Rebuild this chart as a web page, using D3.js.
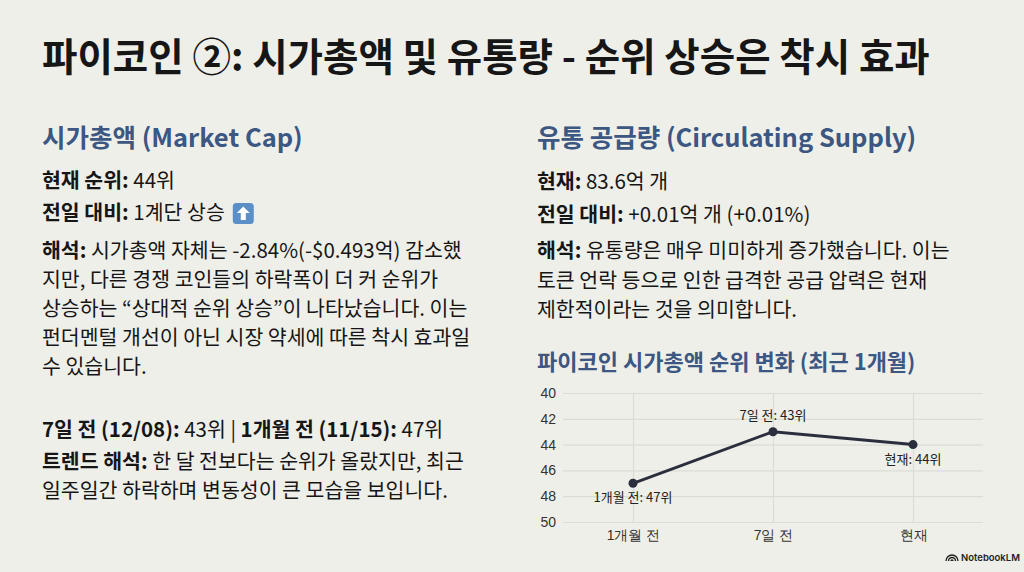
<!DOCTYPE html>
<html><head><meta charset="utf-8">
<script src="https://cdn.jsdelivr.net/npm/d3@7"></script>
<style>
html,body{margin:0;padding:0;background:#efefea;}
svg{display:block;font-family:"Noto Sans CJK KR","Noto Sans",sans-serif;}
</style></head>
<body>
<svg id="c" width="1024" height="572"></svg>
<script>
// ---- data ----
const title = "파이코인 ②: 시가총액 및 유통량 - 순위 상승은 착시 효과";
const leftHeading = "시가총액 (Market Cap)";
const rightHeading = "유통 공급량 (Circulating Supply)";
const chartTitle = "파이코인 시가총액 순위 변화 (최근 1개월)";
const categories = ["1개월 전", "7일 전", "현재"];
const ranks = [47, 43, 44];
const pointLabels = ["1개월 전: 47위", "7일 전: 43위", "현재: 44위"];
const yTicks = [40, 42, 44, 46, 48, 50];
const leftBlocks = [
  {bold: "현재 순위:", lines: [" 44위"]},
  {bold: "전일 대비:", lines: [" 1계단 상승"], icon: true},
  {bold: "해석:", lines: [" 시가총액 자체는 -2.84%(-$0.493억) 감소했", "지만, 다른 경쟁 코인들의 하락폭이 더 커 순위가", "상승하는 “상대적 순위 상승”이 나타났습니다. 이는", "펀더멘털 개선이 아닌 시장 약세에 따른 착시 효과일", "수 있습니다."]}
];
const leftBlocks2 = [
  {parts: [["7일 전 (12/08):", true], [" 43위 | ", false], ["1개월 전 (11/15):", true], [" 47위", false]]},
  {bold: "트렌드 해석:", lines: [" 한 달 전보다는 순위가 올랐지만, 최근", "일주일간 하락하며 변동성이 큰 모습을 보입니다."]}
];
const rightBlocks = [
  {bold: "현재:", lines: [" 83.6억 개"]},
  {bold: "전일 대비:", lines: [" +0.01억 개 (+0.01%)"]},
  {bold: "해석:", lines: [" 유통량은 매우 미미하게 증가했습니다. 이는", "토큰 언락 등으로 인한 급격한 공급 압력은 현재", "제한적이라는 것을 의미합니다."]}
];

const svg = d3.select("#c");
const ink = "#161616", blue = "#3b5782";

svg.append("text").attr("x", 42).attr("y", 71).attr("font-size", 38.5).attr("font-weight", 700)
  .attr("fill", ink).text(title);

function heading(x, y, t, size) {
  svg.append("text").attr("x", x).attr("y", y).attr("font-size", size).attr("font-weight", 700)
    .attr("fill", blue).text(t);
}
heading(42, 147, leftHeading, 25.5);
heading(537, 147, rightHeading, 25.5);

function block(x, y, b, lh) {
  const t = svg.append("text").attr("x", x).attr("y", y).attr("font-size", 20.5).attr("fill", ink);
  if (b.parts) {
    b.parts.forEach(p => t.append("tspan").attr("font-weight", p[1] ? 700 : 400).text(p[0]));
    return t;
  }
  t.append("tspan").attr("font-weight", 700).text(b.bold);
  b.lines.forEach((l, i) => {
    const s = t.append("tspan").text(l);
    if (i > 0) s.attr("x", x).attr("dy", lh);
  });
  return t;
}
const ly = [188, 220, 258];
leftBlocks.forEach((b, i) => {
  const t = block(42, ly[i], b, 29);
  if (b.icon) {
    const w = t.node().getComputedTextLength();
    const g = svg.append("g").attr("transform", `translate(${42 + w + 8},${ly[i] - 17})`);
    g.append("rect").attr("width", 21).attr("height", 21).attr("rx", 3.5).attr("fill", "#5b8fc7");
    g.append("path").attr("d", "M10.5 3.5 L17 10 L13 10 L13 17 L8 17 L8 10 L4 10 Z").attr("fill", "#fff");
  }
});
const ly2 = [437, 469, 498];
leftBlocks2.forEach((b, i) => block(42, ly2[i], b, 29));
const ry = [189, 222, 258];
rightBlocks.forEach((b, i) => block(537, ry[i], b, 29.5));

// ---- chart ----
heading(537, 370, chartTitle, 22);
const x = d3.scalePoint().domain(categories).range([563, 983]).padding(0.5);
const y = d3.scaleLinear().domain([40, 50]).range([393, 522]);

const gy = svg.append("g").attr("transform", "translate(563,0)")
  .call(d3.axisLeft(y).tickValues(yTicks).tickSize(-420).tickPadding(7));
gy.select(".domain").remove();
gy.selectAll(".tick line").attr("stroke", "#dcdcd6").attr("stroke-width", 1.2);
gy.selectAll(".tick text").attr("font-size", 14).attr("fill", "#333").attr("font-family", "inherit");

const gx = svg.append("g").attr("transform", "translate(0,522)")
  .call(d3.axisBottom(x).tickSize(-129).tickPadding(8));
gx.select(".domain").remove();
gx.selectAll(".tick line").attr("stroke", "#dcdcd6").attr("stroke-width", 1.2);
gx.selectAll(".tick text").attr("font-size", 14).attr("fill", "#333").attr("font-family", "inherit");

const pts = categories.map((c, i) => ({c, r: ranks[i], l: pointLabels[i]}));
svg.append("path").datum(pts)
  .attr("d", d3.line().x(d => x(d.c)).y(d => y(d.r)))
  .attr("fill", "none").attr("stroke", "#2b2f3d").attr("stroke-width", 3);
svg.selectAll("circle.pt").data(pts).join("circle").attr("class", "pt")
  .attr("cx", d => x(d.c)).attr("cy", d => y(d.r)).attr("r", 4.5).attr("fill", "#2b2f3d");
svg.selectAll("text.pl").data(pts).join("text").attr("class", "pl")
  .attr("x", d => x(d.c)).attr("y", (d, i) => y(d.r) + (i === 1 ? -12 : 19))
  .attr("text-anchor", "middle").attr("font-size", 13).attr("fill", "#222").text(d => d.l);

// ---- footer logo ----
const lg = svg.append("g").attr("transform", "translate(946,561)");
lg.append("path").attr("d", "M0 0 A6 6 0 0 1 12 0 M2.5 0 A3.5 3.5 0 0 1 9.5 0 M5 0 A1 1 0 0 1 7 0")
  .attr("fill", "none").attr("stroke", "#222").attr("stroke-width", 1.4);
lg.append("text").attr("x", 15).attr("y", 0).attr("font-size", 9.5).attr("font-weight", 600)
  .attr("fill", "#222").attr("font-family", "Inter, sans-serif").text("NotebookLM");
</script>
</body></html>
